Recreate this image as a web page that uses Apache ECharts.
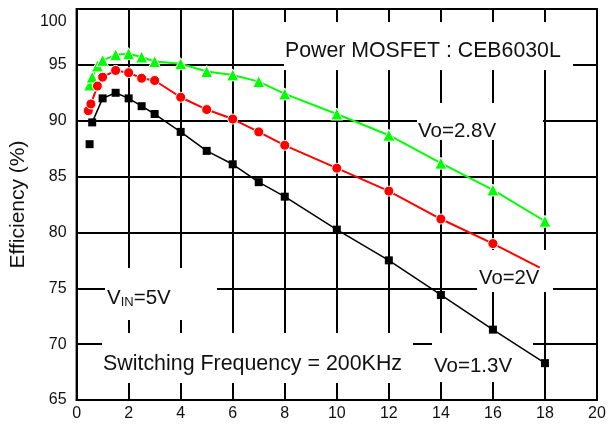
<!DOCTYPE html>
<html><head><meta charset="utf-8">
<script src="https://cdn.jsdelivr.net/npm/echarts@6/dist/echarts.min.js"></script>
<style>html,body{margin:0;padding:0;background:#fff}#c{width:615px;height:426px}</style>
</head><body><div id="c"></div>
<script>
const FONT = 'Liberation Sans, Arial, sans-serif';
const xTicks = [0,2,4,6,8,10,12,14,16,18,20];
const yTicks = [65,70,75,80,85,90,95,100];

const greenX = [0.5,0.6,0.8,1,1.5,2,2.5,3,4,5,6,7,8,10,12,14,16,18];
const greenY = [93.2,93.9,94.9,95.4,95.9,96.0,95.7,95.3,95.1,94.4,94.1,93.5,92.4,90.6,88.7,86.2,83.8,81.0];

const redX = [0.45,0.55,0.8,1,1.5,2,2.5,3,4,5,6,7,8,10,12,14,16,17.8];
const redY = [90.9,91.5,93.1,93.9,94.5,94.3,93.8,93.6,92.1,91.0,90.15,89.0,87.8,85.75,83.7,81.2,79.0,76.85];

const blackX = [0.6,1,1.5,2,2.5,3,4,5,6,7,8,10,12,14,16,18];
const blackY = [89.85,92.0,92.5,92.0,91.3,90.6,89.0,87.3,86.1,84.5,83.2,80.25,77.5,74.4,71.3,68.3];
const blackLoneX = [0.5];
const blackLoneY = [87.9];

const labels = {
  title: 'Power MOSFET : CEB6030L',
  v28: 'Vo=2.8V',
  v2: 'Vo=2V',
  v13: 'Vo=1.3V',
  freq: 'Switching Frequency = 200KHz'
};

function pairs(xs, ys){ return xs.map((x,i)=>[x, ys[i]]); }

const chart = echarts.init(document.getElementById('c'), null, {renderer:'canvas'});

const redData = pairs(redX, redY).map((p,i,a)=> i===a.length-1 ? {value:p, symbol:'none'} : p);

function box(x,y,w,h){
  return {type:'rect', z:1, silent:true, shape:{x:x,y:y,width:w,height:h}, style:{fill:'#fff'}};
}
function txt(t,x,y,size){
  return {type:'text', z:1, silent:true, style:{text:t, x:x, y:y, fill:'#111', font: size+'px '+FONT, verticalAlign:'middle', align:'left'}};
}

chart.setOption({
  animation:false,
  backgroundColor:'#fff',
  grid:{left:74, right:18, top:9, bottom:26, show:true, borderColor:'#000', borderWidth:2, backgroundColor:'transparent'},
  xAxis:{
    type:'value', min:xTicks[0], max:xTicks[xTicks.length-1], interval:2,
    axisLine:{show:true, lineStyle:{color:'#000', width:2}},
    axisTick:{show:false},
    axisLabel:{color:'#111', fontSize:16, fontFamily:FONT, margin:6},
    splitLine:{show:true, lineStyle:{color:'#000', width:2}}
  },
  yAxis:{
    type:'value', min:yTicks[0], max:yTicks[yTicks.length-1], interval:5,
    name:'Efficiency (%)', nameLocation:'middle', nameGap:28, nameRotate:90,
    nameTextStyle:{color:'#111', fontSize:21, fontFamily:FONT},
    axisLine:{show:true, lineStyle:{color:'#000', width:2}},
    axisTick:{show:false},
    axisLabel:{color:'#111', fontSize:16, fontFamily:FONT, margin:10,
      formatter:function(v){ return v===100 ? '{t|100}' : String(v); },
      rich:{t:{fontSize:16, fontFamily:FONT, color:'#111', padding:[26,0,0,0]}}},
    splitLine:{show:true, lineStyle:{color:'#000', width:2}}
  },
  graphic:{elements:[
    box(284,22,289,48), txt(labels.title,285,51,21.3),
    box(417,103,126,37), txt(labels.v28,418,131,20.5),
    box(477,250,76,42), txt(labels.v2,479,278,20.3),
    box(432,333,101,49), txt(labels.v13,434,366,20.5),
    box(102,333,311,50), txt(labels.freq,103,364,21.4),
    box(105,268,112,52),
    {type:'text', z:1, silent:true, style:{text:'{a|V}{b|IN}{a|=5V}', x:107, y:298, verticalAlign:'middle', align:'left',
      rich:{a:{fontSize:20.5, fontFamily:FONT, fill:'#111', color:'#111', verticalAlign:'bottom', lineHeight:22},
            b:{fontSize:13, fontFamily:FONT, fill:'#111', color:'#111', verticalAlign:'bottom', lineHeight:18}}}}
  ]},
  series:[
    {type:'line', name:'2.8V', z:3, data:pairs(greenX, greenY), symbol:'triangle', symbolSize:12,
      lineStyle:{color:'#00ff00', width:2}, itemStyle:{color:'#00ff00', borderColor:'#fff', borderWidth:1}},
    {type:'line', name:'2V', z:3, data:redData, symbol:'circle', symbolSize:10,
      lineStyle:{color:'#ff0000', width:2}, itemStyle:{color:'#ff0000', borderColor:'#fff', borderWidth:1}},
    {type:'line', name:'1.3V', z:3, data:pairs(blackX, blackY), symbol:'rect', symbolSize:8,
      lineStyle:{color:'#000', width:1.5}, itemStyle:{color:'#000'}},
    {type:'scatter', name:'1.3V lone', z:3, data:pairs(blackLoneX, blackLoneY), symbol:'rect', symbolSize:8,
      itemStyle:{color:'#000', opacity:1}}
  ]
});
</script></body></html>
